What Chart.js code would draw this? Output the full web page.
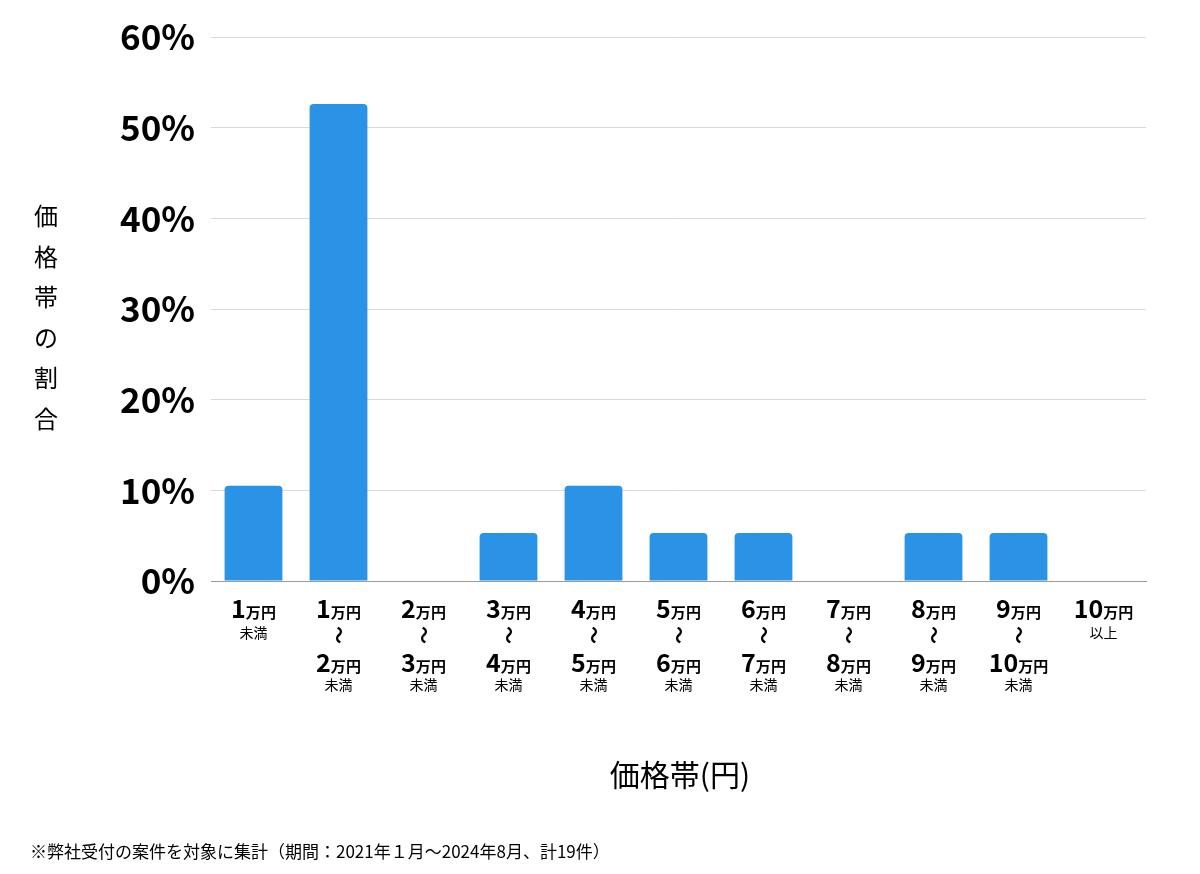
<!DOCTYPE html>
<html><head><meta charset="utf-8">
<script src="https://cdn.jsdelivr.net/npm/chart.js@4"></script>
<style>html,body{margin:0;padding:0;background:#fff}#w{width:1200px;height:874px}</style>
</head><body><div id="w"><canvas id="c"></canvas></div>
<script>
const categories = ["1万円未満","1万円〜2万円未満","2万円〜3万円未満","3万円〜4万円未満","4万円〜5万円未満","5万円〜6万円未満","6万円〜7万円未満","7万円〜8万円未満","8万円〜9万円未満","9万円〜10万円未満","10万円以上"];
const shares = [10.5, 52.6, 0, 5.3, 10.5, 5.3, 5.3, 0, 5.3, 5.3, 0];
const labelFrom = ["1","1","2","3","4","5","6","7","8","9","10"];
const labelTo = [null,"2","3","4","5","6","7","8","9","10",null];
const labelSuffix = ["未満","未満","未満","未満","未満","未満","未満","未満","未満","未満","以上"];
const yTicks = [0,10,20,30,40,50,60];
const yTitle = "価格帯の割合";
const xTitle = "価格帯(円)";
const footnote = "※弊社受付の案件を対象に集計（期間：2021年１月〜2024年8月、計19件）";
const FF = '"Noto Sans CJK JP","Noto Sans",sans-serif';

function drawAmount(ctx, num, cx, y){
  ctx.font = `bold 25px ${FF}`;
  const w1 = ctx.measureText(num).width;
  ctx.font = `bold 15px ${FF}`;
  const w2 = ctx.measureText("万円").width;
  let x = cx - (w1+w2)/2;
  ctx.textAlign='left'; ctx.textBaseline='alphabetic';
  ctx.font = `bold 25px ${FF}`; ctx.fillText(num, x, y);
  ctx.font = `bold 15px ${FF}`; ctx.fillText("万円", x+w1, y);
}
const deco = {
  id:'deco',
  afterDraw(chart){
    const ctx = chart.ctx, xs = chart.scales.x;
    ctx.save(); ctx.fillStyle='#000';
    categories.forEach((c,i)=>{
      const cx = xs.getPixelForValue(i);
      drawAmount(ctx, labelFrom[i], cx, 618);
      let sy;
      if (labelTo[i]) {
        ctx.save(); ctx.translate(cx, 635); ctx.rotate(Math.PI/2);
        ctx.font = `bold 18px ${FF}`; ctx.textAlign='center'; ctx.textBaseline='middle';
        ctx.fillText("〜",0,0); ctx.restore();
        drawAmount(ctx, labelTo[i], cx, 672);
        sy = 690;
      } else sy = 638;
      ctx.font = `14px ${FF}`; ctx.textAlign='center'; ctx.textBaseline='alphabetic';
      ctx.fillText(labelSuffix[i], cx, sy);
    });
    ctx.font = `24px ${FF}`; ctx.textAlign='center'; ctx.textBaseline='middle';
    [...yTitle].forEach((ch,k)=>ctx.fillText(ch, 46, 216+k*40.5));
    ctx.font = `30px ${FF}`;
    ctx.fillText(xTitle, 680, 775);
    ctx.font = `17px ${FF}`; ctx.textAlign='left';
    ctx.fillText(footnote, 30, 852);
    ctx.restore();
  }
};
new Chart(document.getElementById('c'), {
  type:'bar',
  data:{labels:categories, datasets:[{data:shares, backgroundColor:'#2b93e5', borderRadius:{topLeft:4,topRight:4}, borderSkipped:'bottom', barPercentage:0.68, categoryPercentage:1}]},
  options:{
    responsive:true, maintainAspectRatio:false, animation:false,
    layout:{padding:{top:20,right:54,left:0,bottom:0}},
    plugins:{legend:{display:false}, tooltip:{enabled:false}},
    scales:{
      x:{grid:{display:false, drawTicks:false}, border:{color:'#999'}, ticks:{display:false}, afterFit(s){s.height=293;}},
      y:{min:0,max:60, afterBuildTicks(s){s.ticks=yTicks.map(v=>({value:v}));},
         afterFit(s){s.width=211;},
         grid:{color:'#d9d9d9', drawTicks:false}, border:{display:false},
         ticks:{padding:16, color:'#000', font:{family:FF, size:35, weight:'bold'}, callback:v=>v+'%'}}
    }
  },
  plugins:[deco]
});
</script></body></html>
